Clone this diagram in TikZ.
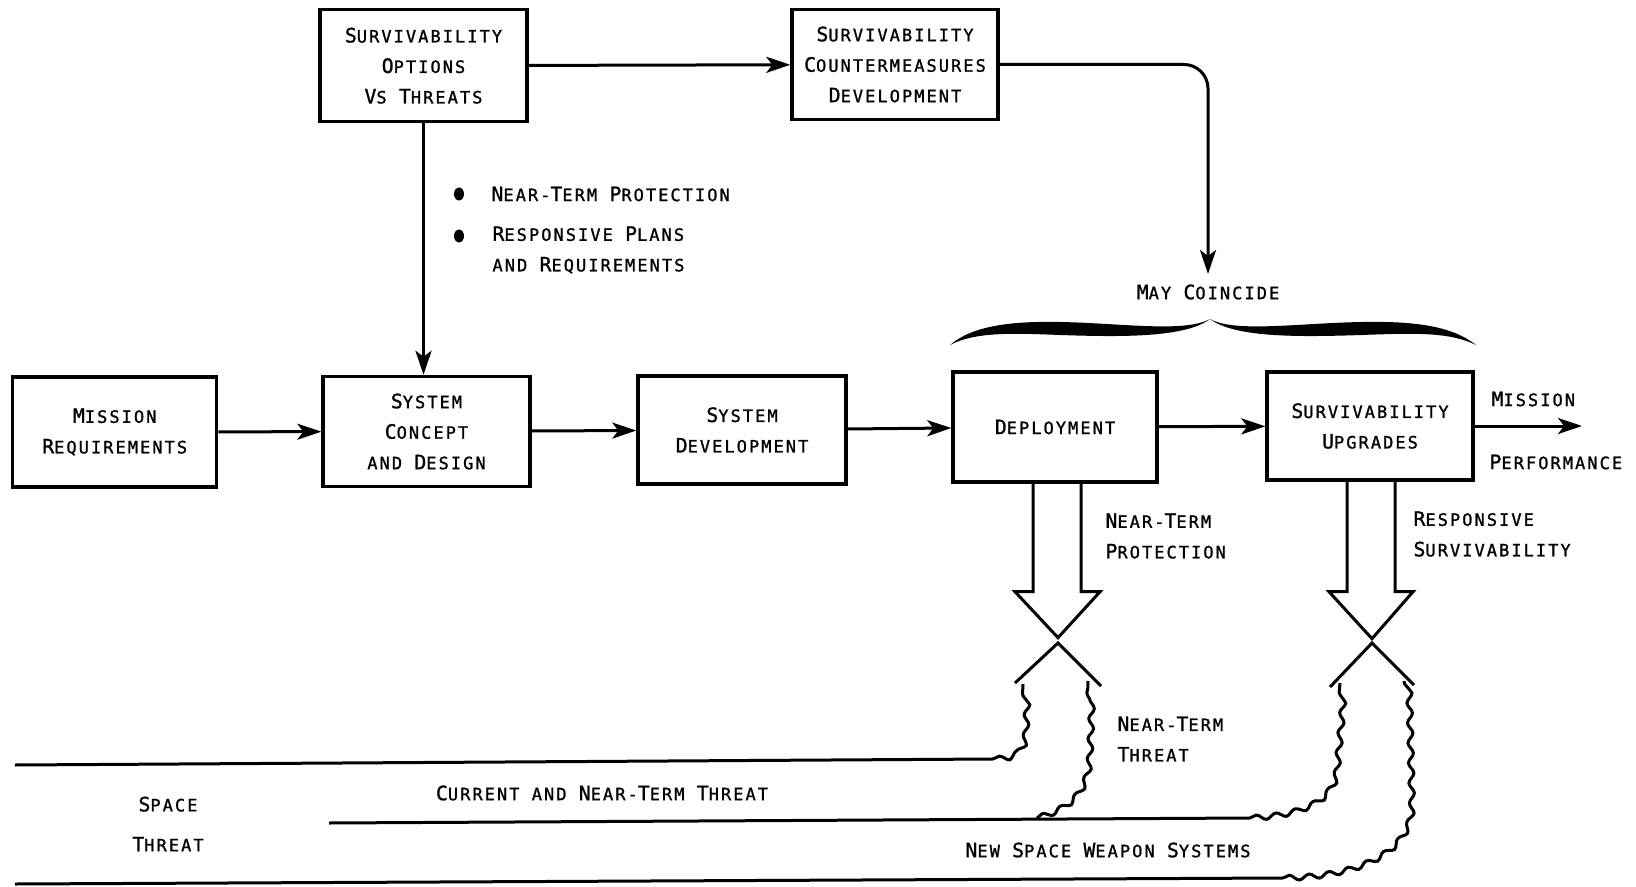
\documentclass[tikz,border=0pt]{standalone}
\usepackage{fontspec}
\setmainfont{DejaVu Sans Mono}[LetterSpace=12,FakeBold=1.2]
\usetikzlibrary{arrows.meta,decorations.pathmorphing,shapes.geometric}
\newcommand\BC[1]{{\fontsize{9.9pt}{15.25pt}\selectfont #1}}
\begin{document}
\begin{tikzpicture}[x=0.5pt,y=-0.5pt,line width=1.5pt,
  txtfont/.style={font=\fontsize{8.5pt}{15.25pt}\selectfont},
  box/.style={draw,line width=1.7pt,align=center,inner sep=0pt,txtfont},
  lbl/.style={align=left,anchor=west,inner sep=0pt,txtfont},
  ctr/.style={align=center,inner sep=0pt,txtfont},
  arr/.style={-{Stealth[length=12pt,width=8pt,inset=3pt]}},
  wavy/.style={decorate,decoration={snake,amplitude=1.3pt,segment length=10pt}},
  bullet/.style={ellipse,fill,inner sep=0pt,minimum width=5pt,minimum height=6.5pt}]
\useasboundingbox (0,0) rectangle (1636,887);

% boxes
\node[box,minimum width=102pt,minimum height=55pt] (mission) at (114.7,432) {\BC{M}ISSION\\\BC{R}EQUIREMENTS};
\node[box,minimum width=103.5pt,minimum height=55pt] (concept) at (426.5,431.5) {\BC{S}YSTEM\\\BC{C}ONCEPT\\AND \BC{D}ESIGN};
\node[box,minimum width=104pt,minimum height=54pt] (dev) at (742,430) {\BC{S}YSTEM\\\BC{D}EVELOPMENT};
\node[box,minimum width=102pt,minimum height=55pt] (deploy) at (1055,427) {\BC{D}EPLOYMENT};
\node[box,minimum width=103pt,minimum height=54pt] (upg) at (1370,426) {\BC{S}URVIVABILITY\\\BC{U}PGRADES};
\node[box,minimum width=103.5pt,minimum height=56pt] (options) at (423.5,65.7) {\BC{S}URVIVABILITY\\\BC{O}PTIONS\\\BC{V}S \BC{T}HREATS};
\node[box,minimum width=103pt,minimum height=55pt] (counter) at (895,64.5) {\BC{S}URVIVABILITY\\\BC{C}OUNTERMEASURES\\\BC{D}EVELOPMENT};

% labels
\node[bullet] (b1) at (459,194) {};
\node[bullet] (b2) at (459,236) {};
\node[lbl] (b1t) at (490,194) {\BC{N}EAR-\BC{T}ERM \BC{P}ROTECTION};
\node[lbl] (b2t) at (491,250) {\BC{R}ESPONSIVE \BC{P}LANS\\AND \BC{R}EQUIREMENTS};
\node[ctr] (may) at (1208,292) {\BC{M}AY \BC{C}OINCIDE};
\node[lbl] (ntp) at (1104,536) {\BC{N}EAR-\BC{T}ERM\\\BC{P}ROTECTION};
\node[lbl] (rs) at (1412,534) {\BC{R}ESPONSIVE\\\BC{S}URVIVABILITY};
\node[lbl] (ntt) at (1116,739) {\BC{N}EAR-\BC{T}ERM\\\BC{T}HREAT};
\node[lbl] (mis) at (1490,399) {\BC{M}ISSION};
\node[lbl] (perf) at (1488,462) {\BC{P}ERFORMANCE};
\node[ctr,font=\fontsize{8.5pt}{20pt}\selectfont] (space) at (168,824) {\BC{S}PACE\\\BC{T}HREAT};
\node[ctr] (cur) at (602,793) {\BC{C}URRENT AND \BC{N}EAR-\BC{T}ERM \BC{T}HREAT};
\node[ctr] (new) at (1108,850) {\BC{N}EW \BC{S}PACE \BC{W}EAPON \BC{S}YSTEMS};

% connectors
\draw[arr] (mission) -- (concept);
\draw[arr] (concept) -- (dev);
\draw[arr] (dev) -- (deploy);
\draw[arr] (deploy) -- (upg);
\draw[arr] (options) -- (counter);
\draw[arr] (options.south) -- (options.south |- concept.north);
\draw[arr,rounded corners=12pt,shorten >=4.5pt] (counter.east) -| (may.north);
\coordinate (mpend) at (1582,426);
\draw[arr] (upg.east) -- (mpend);

% brace
\fill (950,345) .. controls (972,326) and (1010,321) .. (1060,322) .. controls (1120,323) and (1185,333) .. (1210,319) .. controls (1185,338) and (1120,337) .. (1060,335) .. controls (1010,333) and (975,332) .. (950,345) -- cycle;
\fill (1476,345) .. controls (1452,326) and (1415,321) .. (1362,322) .. controls (1300,323) and (1235,333) .. (1210,319) .. controls (1235,338) and (1300,337) .. (1362,335) .. controls (1415,333) and (1450,332) .. (1476,345) -- cycle;

% hollow arrows
\draw[line join=miter] (deploy.south) ++(-22,0) -- ++(0,108) -- ++(-18,0) -- ++(43,46) -- ++(42,-46) -- ++(-19,0) -- ++(0,-108);
\draw[line join=miter] (upg.south) ++(-23,0) -- ++(0,110) -- ++(-18,0) -- ++(43,47) -- ++(41,-47) -- ++(-18,0) -- ++(0,-110);

% chevrons
\draw (1015,683) -- (1058,643) -- (1101,686);
\draw (1330,687) -- (1372,643) -- (1414,685);

% threat lines
\draw (15,765) -- (993,759);
\draw[wavy] (993,759) .. controls (1018,758) and (1021,745) .. (1021,725) -- (1023,684);
\draw (329,823) -- (1250,818);
\draw[wavy] (1037,818) .. controls (1070,808) and (1083,790) .. (1085,760) -- (1088,681);
\draw[wavy] (1250,818) .. controls (1300,815) and (1330,800) .. (1332,770) -- (1340,683);
\draw (15,884) -- (1283,878);
\draw[wavy] (1283,878) .. controls (1360,876) and (1407,850) .. (1407,805) -- (1404,681);
\end{tikzpicture}
\end{document}
